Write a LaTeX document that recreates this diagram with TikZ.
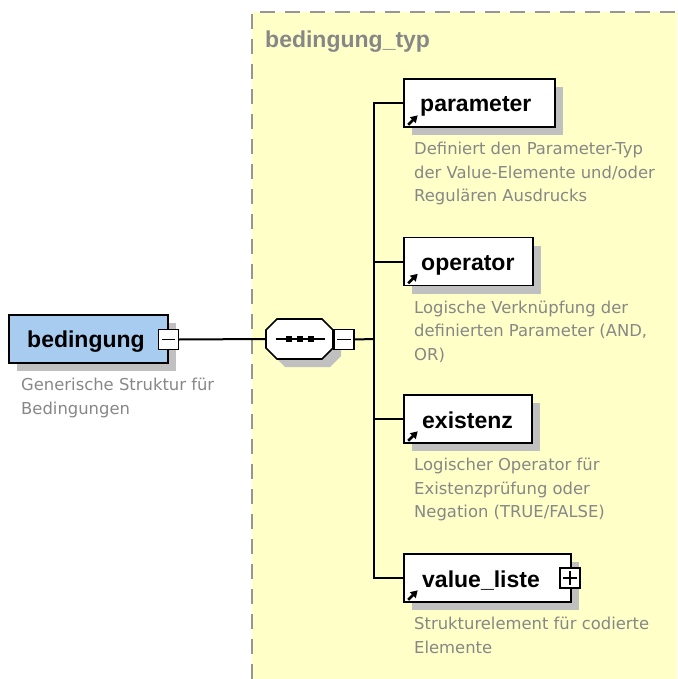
\documentclass[tikz,border=0pt]{standalone}
\usepackage{fontspec}
\setmainfont{Liberation Sans}
\newfontfamily\descfont{DejaVu Sans}
\usetikzlibrary{shadows,arrows.meta,calc}

\definecolor{areafill}{RGB}{255,255,200}
\definecolor{areaedge}{RGB}{150,150,150}
\definecolor{boxblue}{RGB}{168,204,240}
\definecolor{shadowgray}{RGB}{192,192,192}
\definecolor{desctext}{RGB}{135,135,135}

\tikzset{
  elembox/.style={draw=black, line width=1.6pt, fill=white, minimum height=48pt,
    inner sep=0pt, drop shadow={shadow xshift=8pt, shadow yshift=-8pt,
    fill=shadowgray, opacity=1}},
  elemlabel/.style={anchor=base west, inner sep=0pt, font=\fontsize{23}{26}\selectfont\bfseries},
  desc/.style={anchor=north west, inner sep=0pt, align=left, text=desctext,
    font=\descfont\fontsize{16.4}{23.5}\selectfont},
  toggle/.style={draw=black, line width=1.3pt, fill=white, minimum width=20pt,
    minimum height=20pt, inner sep=0pt},
  conn/.style={line width=2pt, draw=black},
  refarrow/.style={line width=2.6pt, -{Triangle[length=7pt,width=8pt]}},
}

\begin{document}
\begin{tikzpicture}[x=1pt,y=-1pt]
\useasboundingbox (0,0) rectangle (677,679);

% type area
\fill[areafill] (252,12) rectangle (677,679);
\draw[areaedge, line width=2pt, dash pattern=on 15pt off 10pt] (252,679) -- (252,12) -- (677,12);
\node[anchor=base west, inner sep=0pt, text=areaedge!90!black,
  font=\fontsize{23}{26}\selectfont\bfseries] (typ) at (265,48) {bedingung\_typ};

% root element
\node[elembox, fill=boxblue, minimum width=159pt] (bed) at (88.5,339) {};
\node[elemlabel] (bedl) at (27,347) {bedingung};
\node[toggle] (bedm) at (168.5,339.5) {};
\draw[line width=1.3pt] ($(bedm.west)+(4,0)$) -- ($(bedm.east)+(-4,0)$);
\node[desc] (bedd) at (21,378) {Generische Struktur für\\Bedingungen};

% sequence compositor
\node[minimum width=67pt, minimum height=40pt, inner sep=0pt] (seq) at (299.5,339) {};
\begin{scope}[shift={(307.5,347)}]
  \fill[shadowgray] (-33.5,-9) -- (-22.5,-20) -- (22.5,-20) -- (33.5,-9) -- (33.5,9) -- (22.5,20) -- (-22.5,20) -- (-33.5,9) -- cycle;
\end{scope}
\begin{scope}[shift={(299.5,339)}]
  \draw[line width=1.6pt, fill=white] (-33.5,-9) -- (-22.5,-20) -- (22.5,-20) -- (33.5,-9) -- (33.5,9) -- (22.5,20) -- (-22.5,20) -- (-33.5,9) -- cycle;
  \draw[line width=1.6pt] (-24,0) -- (25,0);
  \fill (-14,-3) rectangle (-8,3);
  \fill (-3,-3) rectangle (3,3);
  \fill (8,-3) rectangle (14,3);
\end{scope}
\node[toggle] (seqm) at (344,339.5) {};
\draw[line width=1.3pt] ($(seqm.west)+(4,0)$) -- ($(seqm.east)+(-4,0)$);

% child elements
\node[elembox, minimum width=151pt] (par) at (479.5,103) {};
\node[elembox, minimum width=129pt] (op) at (468.5,261.5) {};
\node[elembox, minimum width=128pt] (ex) at (468,419) {};
\node[elembox, minimum width=167pt] (val) at (487.5,578) {};

\node[elemlabel] (parl) at (420,112) {parameter};
\node[elemlabel] (opl) at (421,270.5) {operator};
\node[elemlabel] (exl) at (422,428) {existenz};
\node[elemlabel] (vall) at (422,587) {value\_liste};

\node[toggle] (valp) at (570,578) {};
\draw[line width=1.3pt] ($(valp.west)+(4,0)$) -- ($(valp.east)+(-4,0)$);
\draw[line width=1.3pt] ($(valp.north)+(0,4)$) -- ($(valp.south)+(0,-4)$);

% reference arrows
\foreach \n in {par,op,ex,val}{
  \draw[refarrow] ($(\n.south west)+(5,-3)$) -- ($(\n.south west)+(14.5,-12.5)$);
}

% descriptions
\node[desc] (pard) at (414,142) {Definiert den Parameter-Typ\\der Value-Elemente und/oder\\Regulären Ausdrucks};
\node[desc] (opd) at (414,300.5) {Logische Verknüpfung der\\definierten Parameter (AND,\\OR)};
\node[desc] (exd) at (414,458) {Logischer Operator für\\Existenzprüfung oder\\Negation (TRUE/FALSE)};
\node[desc] (vald) at (414,617) {Strukturelement für codierte\\Elemente};

% connectors
\coordinate (bus) at (374,339);
\draw[conn] (bedm.east) -- (seq.west);
\draw[conn] (seqm.east) -- (bus);
\draw[conn] (par.west) -| (bus) |- (val.west);
\draw[conn] (op.west) -- (op.west -| bus);
\draw[conn] (ex.west) -- (ex.west -| bus);
\end{tikzpicture}
\end{document}
